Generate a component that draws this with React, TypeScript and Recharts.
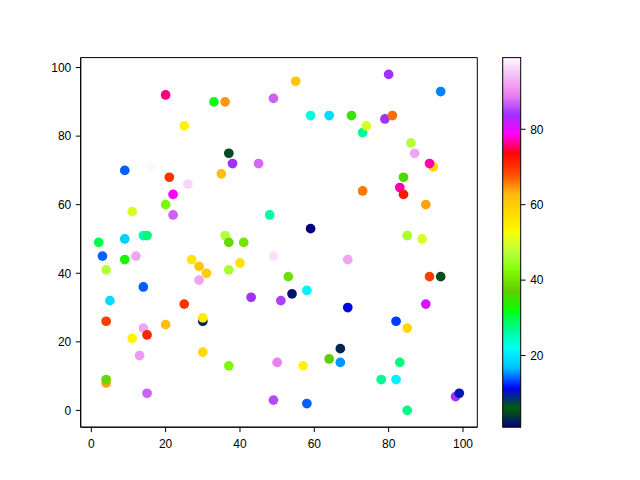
import React from 'react';
import { ScatterChart, Scatter, XAxis, YAxis, ReferenceArea } from 'recharts';

// x positions of the points
const xs = [
  20, 33, 36, 49, 25, 37, 38, 45, 9, 16, 21, 26, 35, 22, 20, 11, 22, 48, 2, 9, 14, 15, 36, 37, 41,
  55, 80, 94, 59, 64, 70, 79, 81, 73, 74, 86, 87, 92, 91, 84, 83, 84, 73, 90, 59, 85, 89,
  3, 9, 12, 4, 27, 29, 31, 29, 37, 40, 49, 14, 5, 25, 43, 51, 4, 30, 30, 20, 14, 15, 11, 13, 30, 37, 50, 4, 4, 15, 49,
  69, 53, 91, 94, 58, 54, 69, 90, 82, 85, 57, 64, 67, 67, 83, 78, 82, 58, 85, 98, 99,
];
// y positions of the points
const ys = [
  92, 90, 90, 91, 83, 75, 72, 72, 70, 71, 68, 66, 69, 63, 60, 58, 57, 57, 49, 50, 51, 51, 51, 49, 49,
  96, 98, 93, 86, 86, 86, 85, 86, 81, 83, 78, 75, 71, 72, 68, 65, 63, 64, 60, 53, 51, 50,
  45, 44, 45, 41, 44, 42, 40, 38, 41, 43, 45, 36, 32, 31, 33, 32, 26, 26, 27, 25, 24, 22, 21, 16, 17, 13, 14, 8, 9, 5, 3,
  44, 39, 39, 39, 35, 34, 30, 31, 26, 24, 13, 15, 14, 18, 14, 9, 9, 2, 0, 4, 5,
];
// colour values of the points
const cs = [
  76, 32, 64.5, 87, 54, 5, 84, 87.5, 14, 99, 70, 96, 62, 79, 42, 50, 87, 26, 30, 18, 25, 28, 47, 38, 40,
  61, 84, 15, 23, 19, 35, 84, 66.5, 27, 50, 47, 92, 58, 77, 36, 77, 72, 66, 64, 1, 46, 50,
  14, 33, 92, 47, 56, 61, 60, 92, 46, 57, 97, 14, 19, 70, 84, 85, 69, 3, 55, 62, 92, 71, 54, 91, 58, 42, 89, 64, 38, 87, 85.5,
  92, 39, 69, 5, 21, 2, 11, 81, 13, 58, 54, 37, 15.5, 3, 28, 27, 21, 14, 27.5, 84, 10,
];

const xTicks = [0, 20, 40, 60, 80, 100];
const yTicks = [0, 20, 40, 60, 80, 100];
const cTicks = [20, 40, 60, 80];
const X_DOMAIN: [number, number] = [-2.85, 103.85];
const Y_DOMAIN: [number, number] = [-4.9, 102.9];

// gist_ncar colormap segments
type Seg = [number, number][];
const RED: Seg = [[0, 0], [0.3098, 0], [0.3725, 0.3993], [0.4235, 0.5003], [0.5333, 1], [0.7922, 1], [0.8471, 0.6218], [0.898, 0.9235], [1, 0.9961]];
const GREEN: Seg = [[0, 0], [0.051, 0.3722], [0.1059, 0], [0.1569, 0.7202], [0.1608, 0.7537], [0.1647, 0.7752], [0.2157, 1], [0.2588, 0.9804], [0.2706, 0.9804], [0.3176, 1], [0.3686, 0.8081], [0.4275, 1], [0.5216, 1], [0.6314, 0.7292], [0.6863, 0.2796], [0.7451, 0], [0.7922, 0], [0.8431, 0.1753], [0.898, 0.5], [1, 0.9725]];
const BLUE: Seg = [[0, 0.502], [0.051, 0.0222], [0.1098, 1], [0.2039, 1], [0.2627, 0.6145], [0.3216, 0], [0.4157, 0], [0.4745, 0.2342], [0.5333, 0], [0.5804, 0], [0.6314, 0.0549], [0.6902, 0], [0.7373, 0], [0.7922, 0.9738], [0.8, 1], [0.8431, 1], [0.898, 0.9341], [1, 0.9961]];

function seg(s: Seg, t: number) {
  if (t <= s[0][0]) return s[0][1];
  for (let i = 0; i < s.length - 1; i++) {
    const [a, va] = s[i];
    const [b, vb] = s[i + 1];
    if (t >= a && t <= b) return b === a ? vb : va + ((t - a) / (b - a)) * (vb - va);
  }
  return s[s.length - 1][1];
}
function cmap(t: number) {
  const r = Math.round(seg(RED, t) * 255);
  const g = Math.round(seg(GREEN, t) * 255);
  const b = Math.round(seg(BLUE, t) * 255);
  return `rgb(${r},${g},${b})`;
}

const C_MIN = Math.min(...cs);
const C_MAX = Math.max(...cs);
const colorFor = (c: number) => cmap((c - C_MIN) / (C_MAX - C_MIN));

const data = xs.map((x, i) => ({ x, y: ys[i], c: cs[i] }));

const FONT = '"Liberation Sans", Arial, sans-serif';
const tickStyle = { fill: '#000', fontSize: 12, fontFamily: FONT };

const Dot = (props: any) => {
  const { cx, cy, payload } = props;
  if (cx == null || cy == null) return null;
  return <circle cx={cx} cy={cy} r={4.85} fill={colorFor(payload.c)} />;
};

// colorbar geometry
const CB = { x: 502.7, y: 57.6, w: 18, h: 369.6 };
const stops = Array.from({ length: 129 }, (_, i) => i / 128);

export default function App() {
  return (
    <div style={{ position: 'absolute', left: 0, top: 0, width: 640, height: 480, background: '#fff' }}>
      <ScatterChart width={640} height={480} margin={{ top: 57.6, right: 162.7, bottom: 22.8, left: 40.7 }}>
        <XAxis
          type="number"
          dataKey="x"
          domain={X_DOMAIN}
          ticks={xTicks}
          height={30}
          tickSize={4.9}
          tickMargin={7}
          stroke="#000"
          tick={tickStyle}
          allowDataOverflow
          interval={0}
        />
        <YAxis
          type="number"
          dataKey="y"
          domain={Y_DOMAIN}
          ticks={yTicks}
          width={40}
          tickSize={4.9}
          tickMargin={4.5}
          stroke="#000"
          tick={tickStyle}
          allowDataOverflow
          interval={0}
        />
        <ReferenceArea
          x1={X_DOMAIN[0]}
          x2={X_DOMAIN[1]}
          y1={Y_DOMAIN[0]}
          y2={Y_DOMAIN[1]}
          fill="none"
          fillOpacity={0}
          stroke="#000"
          strokeWidth={1}
          ifOverflow="visible"
        />
        <Scatter data={data} shape={Dot} isAnimationActive={false} />
      </ScatterChart>
      <svg width={640} height={480} style={{ position: 'absolute', left: 0, top: 0, pointerEvents: 'none' }}>
        <defs>
          <linearGradient id="cbar" x1="0" y1="1" x2="0" y2="0">
            {stops.map((t) => (
              <stop key={t} offset={t} stopColor={cmap(t)} />
            ))}
          </linearGradient>
        </defs>
        <rect x={CB.x} y={CB.y} width={CB.w} height={CB.h} fill="url(#cbar)" stroke="#000" strokeWidth={1} />
        {cTicks.map((v) => {
          const y = CB.y + ((C_MAX - v) / (C_MAX - C_MIN)) * CB.h;
          return (
            <g key={v}>
              <line x1={CB.x + CB.w} x2={CB.x + CB.w + 4.9} y1={y} y2={y} stroke="#000" strokeWidth={1} />
              <text x={CB.x + CB.w + 9.5} y={y} dy="0.355em" fontSize={12} fontFamily={FONT} fill="#000">
                {v}
              </text>
            </g>
          );
        })}
      </svg>
    </div>
  );
}
